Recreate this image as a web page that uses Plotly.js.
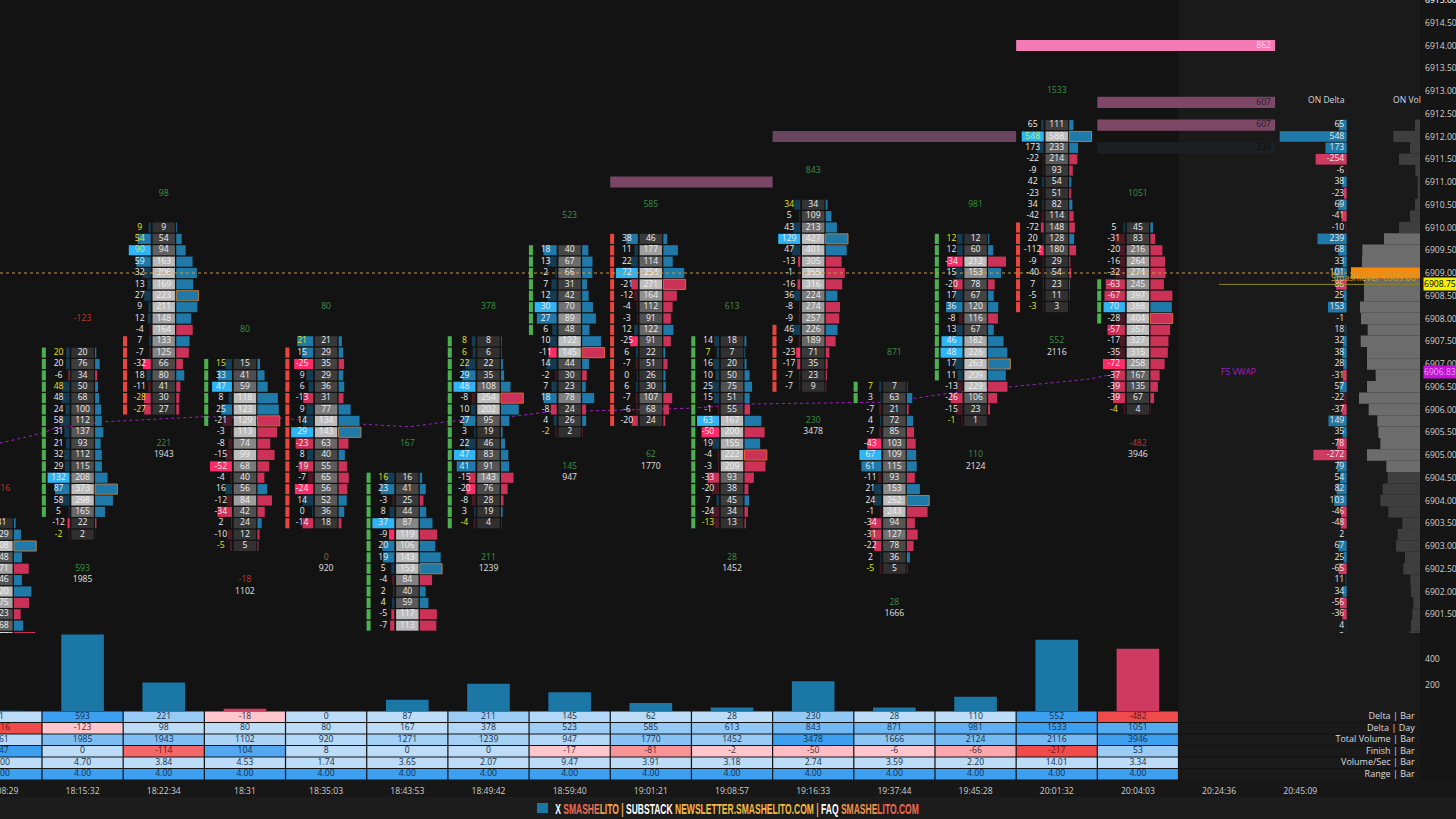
<!DOCTYPE html>
<html><head><meta charset="utf-8">
<script src="https://cdn.plot.ly/plotly-3.0.1.min.js"></script>
<style>html,body{margin:0;padding:0;background:#151515;overflow:hidden}</style></head>
<body><div id="chart" style="width:1456px;height:819px"></div>
<script>
// ---------- data ----------
const timeLabels=['18:08:29','18:15:32','18:22:34','18:31','18:35:03','18:43:53','18:49:42','18:59:40','19:01:21','19:08:57','19:16:33','19:37:44','19:45:28','20:01:32','20:04:03','20:24:36','20:45:09'];
const topPrice=[6903.5,6907.25,6910,6907,6907.5,6904.5,6907.5,6909.5,6909.75,6907.5,6910.5,6906.5,6909.75,6912.25,6910];
const delta0=[1,6,40,9,-14,7,19,-9,-3,8,-30];
const vol0=[31,129,408,148,271,146,320,275,123,168,390];
const delta1=[20,20,-6,48,48,24,58,31,21,32,29,132,87,58,5,-12,-2];
const vol1=[20,76,34,50,68,100,112,137,93,112,115,208,373,298,165,22,2];
const delta2=[9,54,90,59,32,13,27,9,12,-4,7,-7,-32,18,-11,-28,-27];
const vol2=[9,54,94,163,206,169,223,211,148,164,133,125,66,80,41,30,27];
const delta3=[15,33,47,8,25,-21,-3,-8,-15,-52,-4,16,-12,-34,2,-10,-5];
const vol3=[15,41,59,118,123,129,113,74,99,68,40,56,84,42,24,12,5];
const delta4=[21,15,-25,9,6,-13,9,14,29,-23,8,-19,-7,-24,14,0,-14];
const vol4=[21,29,35,29,36,31,77,134,143,63,40,55,65,56,52,36,18];
const delta5=[16,23,-3,8,37,-9,20,19,5,-4,2,4,-5,-7];
const vol5=[16,41,25,44,87,119,106,143,153,84,40,59,117,113];
const delta6=[8,6,22,29,48,-8,10,27,3,22,47,41,-15,-20,-8,3,-4];
const vol6=[8,6,22,35,108,254,202,95,19,46,83,91,143,76,28,19,4];
const delta7=[18,13,2,7,12,30,27,6,10,-11,14,-2,7,18,-8,4,-2];
const vol7=[40,67,66,31,42,70,89,48,122,145,44,30,23,78,24,26,2];
const delta8=[38,11,22,72,-21,-12,-4,-3,12,-25,6,-7,0,6,-7,-6,-20];
const vol8=[46,177,114,254,271,164,112,91,122,91,22,51,26,30,107,68,24];
const delta9=[14,7,16,10,25,15,-1,63,-50,19,-4,-3,-33,-20,7,-24,-13];
const vol9=[18,7,20,50,75,51,55,167,200,155,222,209,93,38,45,34,13];
const delta10=[34,5,43,129,47,-13,-1,-16,36,-8,-9,46,-9,-23,-17,-7,-7];
const vol10=[34,109,213,427,401,305,365,316,224,274,257,226,189,71,35,23,9];
const delta11=[7,3,-7,4,-7,-43,67,61,-11,21,24,-1,-34,-31,-22,2,-5];
const vol11=[7,63,21,72,85,103,109,115,93,153,262,243,94,127,78,36,5];
const delta12=[12,12,-34,15,-20,17,36,-8,13,46,48,17,11,-13,-26,-15,-1];
const vol12=[12,60,212,153,78,67,120,116,67,182,226,263,209,229,106,23,1];
const delta13=[65,548,173,-22,-9,42,-23,34,-42,-72,20,-112,-9,-40,7,-5,-3];
const vol13=[111,588,233,214,93,54,51,82,114,148,128,180,29,54,23,11,3];
const delta14=[5,-31,-20,-16,-32,-63,-67,70,-28,-57,-17,-35,-72,-37,-39,-39,-4];
const vol14=[45,83,216,264,274,245,397,388,404,357,327,315,258,167,135,67,4];
const stripeTop=[null,6907.25,6907.5,6907,6907.25,6904.5,6907.5,6909.5,6909.75,6907.5,6907.75,6906.5,6909.75,6910,6908.75];
const stripeBottom=[null,6903.75,6906,6905.75,6903.5,6901.25,6903.5,6907.75,6905.75,6903.5,6906.5,6906.25,6906.75,6908.25,6908];
const stripeUp=[1,1,0,1,0,1,1,1,0,1,0,1,1,0,1];
const deltaBar=[1,593,221,-18,0,87,211,145,62,28,230,28,110,552,-482];
const deltaDay=[-716,-123,98,80,80,167,378,523,585,613,843,871,981,1533,1051];
const totalVolume=[861,1985,1943,1102,920,1271,1239,947,1770,1452,3478,1666,2124,2116,3946];
const finishBar=[147,0,-114,104,8,0,0,-17,-81,-2,-50,-6,-66,-217,53];
const volPerSec=[3,4.70,3.84,4.53,1.74,3.65,2.07,9.47,3.91,3.18,2.74,3.59,2.20,14.01,3.34];
const rangeBar=[4,4,4,4,4,4,4,4,4,4,4,4,4,4,4];
const tableLabels=['Delta | Bar','Delta | Day','Total Volume | Bar','Finish | Bar','Volume/Sec | Bar','Range | Bar'];
const onDeltaTop=6912.25;
const onDelta=[65,548,173,-254,-6,38,-23,69,-41,-10,239,68,33,101,-86,25,153,-1,18,32,38,28,-31,57,-22,-37,149,35,-78,-272,79,54,82,103,-46,-48,2,67,25,-65,11,34,-56,-36,4,-3];
const onVol=[150,800,300,630,140,70,70,150,300,630,1080,1730,1740,2070,1680,1680,1800,1770,1570,1780,1590,1590,1330,1590,1830,1540,1280,1250,1190,1590,1010,970,1120,1190,950,530,670,720,450,500,290,270,200,230,270,320];
const vwapIdx=[-0.02,.505,.63,1.245,2.48,3.43,3.67,4.41,5.03,5.48,6.26,6.75,7.21,7.70,8.52,9.18,10.82,11.19,11.68,12.38,13.41,13.65,14];
const vwapPrice=[6905.26,6905.48,6905.57,6905.73,6905.84,6905.81,6905.77,6905.68,6905.62,6905.73,6905.84,6905.95,6905.97,6905.99,6906.03,6906.12,6906.16,6906.23,6906.36,6906.49,6906.67,6906.76,6906.83];
const levelStart=[7.5,9.5,12.5,13.5,13.5,13.5];
const levelEnd=[9.5,12.5,15.69,15.69,15.69,15.69];
const levelPrice=[6911,6912,6914,6912.75,6912.25,6911.75];
const levelLabel=['','',862,607,607,239];
const smashLevel=6909, lastPrice=6908.75, vwapLast=6906.83, topTick=6915;

// ---------- styling / helpers ----------
const allDelta=[delta0,delta1,delta2,delta3,delta4,delta5,delta6,delta7,delta8,delta9,delta10,delta11,delta12,delta13,delta14];
const allVol=[vol0,vol1,vol2,vol3,vol4,vol5,vol6,vol7,vol8,vol9,vol10,vol11,vol12,vol13,vol14];
const FONT='"Open Sans", "Noto Sans", sans-serif', TS=8.6;
const slope=81.18, origin=1.4, plotW=1420;
const xr=[-origin/slope,(plotW-origin)/slope];
const BLUE='#1f7aa9',RED='#cc3158';
const levelColor=['#7b4565','#6a4560','#f27ab5','#7d4866','#7d4866','#1c2024'];
const levelText=['#000','#000','#ffd6e8','#2a1a24','#2a1a24','#0c0c0c'];
function grayOf(r){const g=Math.round(48+142*Math.pow(Math.min(1,r/.75),1.8));return `rgb(${g},${g},${g})`}
function deltaColor(d,maxPos,maxNeg){
  if(d>=0){const r=maxPos?d/maxPos:0;return r>=.95?'#2fb4f4':r>=.5?BLUE:'#143d54'}
  const r=maxNeg?(-d)/maxNeg:0;return r>=.95?'#ff2a68':r>=.5?RED:'#4a1a26';
}
const cellH=.222;
const dBar={x:[],y:[],base:[],c:[]},vBar={x:[],y:[],base:[],c:[]},pBar={x:[],y:[],base:[],c:[],lc:[],lw:[]},sBar={x:[],y:[],base:[],c:[]};
const dTxt={x:[],y:[],t:[],c:[]},vTxt={x:[],y:[],t:[]};
const headTxt={x:[],y:[],t:[],c:[]};
allDelta.forEach((ds,i)=>{
  const vs=allVol[i],top=topPrice[i];
  const maxV=Math.max(...vs),maxA=Math.max(...ds.map(Math.abs)),maxP=Math.max(...ds,0),maxN=Math.max(...ds.map(d=>-d),0);
  ds.forEach((d,k)=>{
    const p=top-.25*k,v=vs[k];
    const w=Math.max(.012,Math.abs(d)/maxA*.271);
    const col=deltaColor(d,maxP,maxN);
    dBar.x.push(w);dBar.y.push(p);dBar.base.push(i-.16-w);dBar.c.push(col);
    vBar.x.push(.276);vBar.y.push(p);vBar.base.push(i-.138);vBar.c.push(grayOf(v/maxV));
    const pw=v/maxV*.275;
    const isPoc=v===maxV;
    pBar.x.push(pw);pBar.y.push(p);pBar.base.push(i+.154);pBar.c.push(d>=0?BLUE:RED);
    pBar.lc.push(d>=0?'#b87a3c':'#e8602c');pBar.lw.push(isPoc?1:0);
    const extreme=v>0&&Math.abs(d)/v>=.93;
    dTxt.x.push(i-.296);dTxt.y.push(p);dTxt.t.push(String(d));
    dTxt.c.push(extreme?(col==='#2fb4f4'?'#b8f070':'#e6e224'):'#ececec');
    vTxt.x.push(i);vTxt.y.push(p);vTxt.t.push(String(v));
  });
  const bottom=top-.25*(ds.length-1);
  const sgn=v=>v>0?'#3f9142':v<0?'#bf3a30':'#8a6a3a';
  headTxt.x.push(i);headTxt.y.push(top+.75);headTxt.t.push(String(deltaDay[i]));headTxt.c.push(sgn(deltaDay[i]));
  headTxt.x.push(i);headTxt.y.push(bottom-.75);headTxt.t.push(String(deltaBar[i]));headTxt.c.push(sgn(deltaBar[i]));
  headTxt.x.push(i);headTxt.y.push(bottom-1);headTxt.t.push(String(totalVolume[i]));headTxt.c.push('#e0e0e0');
  if(stripeTop[i]!==null){
    for(let p=stripeTop[i];p>=stripeBottom[i];p-=.25){
      sBar.x.push(.05);sBar.y.push(p);sBar.base.push(i-.477-.025);sBar.c.push(stripeUp[i]?'#4caf50':'#e8453c');
    }
  }
});
function hbar(a,w,extra){return Object.assign({type:'bar',orientation:'h',x:a.x,y:a.y,base:a.base,width:w,marker:{color:a.c,line:{width:a.lw||0,color:a.lc||'rgba(0,0,0,0)'}},hoverinfo:'skip',showlegend:false},extra||{})}
function txt(x,y,t,c,pos,extra,size){return Object.assign({type:'scatter',mode:'text',x,y,text:t,textposition:pos||'middle center',textfont:{family:FONT,size:size||TS,color:c},hoverinfo:'skip',showlegend:false},extra||{})}

const traces=[];
traces.push(hbar({x:levelEnd.map((e,k)=>e-levelStart[k]),y:levelPrice,base:levelStart,c:levelColor},.245));
traces.push(hbar(sBar,cellH));
traces.push(hbar(dBar,cellH));
traces.push(hbar(vBar,cellH));
traces.push(hbar(pBar,cellH));
traces.push(txt(levelEnd.slice(2).map(e=>e-.05),levelPrice.slice(2),levelLabel.slice(2).map(String),levelText.slice(2),'middle left'));
traces.push(txt(dTxt.x,dTxt.y,dTxt.t,dTxt.c));
traces.push(txt(vTxt.x,vTxt.y,vTxt.t,'#efefef'));
traces.push(txt(headTxt.x,headTxt.y,headTxt.t,headTxt.c));
traces.push({type:'bar',x:deltaBar.map((_,i)=>i),y:deltaBar.map(Math.abs),width:.525,xaxis:'x',yaxis:'y2',marker:{color:deltaBar.map(v=>v>=0?'#1b77a6':'#cf3a62')},hoverinfo:'skip',showlegend:false});
const tableRows=[deltaBar,deltaDay,totalVolume,finishBar,volPerSec,rangeBar];
const rowPosFull=[593,1533,3946,147,100,4];
function mix(a,b,t){return 'rgb('+a.map((v,k)=>Math.round(v+(b[k]-v)*t)).join(',')+')'}
function clamp(t){return Math.max(0,Math.min(1,t))}
const tb={x:[],y:[],base:[],c:[]},tt={x:[],y:[],t:[],c:[]};
tableRows.forEach((row,r)=>{
  const negFull=Math.max(...row.map(v=>-v),1);
  row.forEach((v,i)=>{
    let col,tc='#14304c';
    if(v<0){const q=clamp((-v/negFull-.2)/.42);col=mix([255,198,205],[239,75,75],q);tc=q>.5?'#6a1414':'#4a2a30'}
    else{const q=clamp((v/rowPosFull[r]-.2)/.6);col=mix([188,220,248],[61,159,240],q)}
    tb.x.push(.985);tb.y.push(r);tb.base.push(i-.4925);tb.c.push(col);
    tt.x.push(i);tt.y.push(r);tt.c.push(tc);
    tt.t.push(r>=4?v.toFixed(2):String(v));
  });
});
traces.push(hbar(tb,.9,{xaxis:'x',yaxis:'y3'}));
traces.push(txt(tt.x,tt.y,tt.t,tt.c,'middle center',{xaxis:'x',yaxis:'y3'}));
traces.push(txt(tableLabels.map(()=>xr[1]-.065),tableLabels.map((_,r)=>r),tableLabels,'#dcdcdc','middle left',{xaxis:'x',yaxis:'y3'},9));
const onP=onDelta.map((_,k)=>onDeltaTop-.25*k);
traces.push({type:'bar',orientation:'h',x:onDelta.map(v=>-Math.abs(v)),y:onP,width:.235,xaxis:'x2',yaxis:'y',
  marker:{color:onDelta.map(v=>v>=0?(v>=25?BLUE:'#143d54'):(v<=-23?'#cf3a62':'#4a1a26'))},hoverinfo:'skip',showlegend:false});
traces.push(txt(onDelta.map(()=>-20),onP,onDelta.map(String),'#e6e6e6','middle left',{xaxis:'x2',yaxis:'y'}));
const onVP=onVol.map((_,k)=>onDeltaTop-.25*k);
traces.push({type:'bar',orientation:'h',x:onVol.map(v=>-v),y:onVP,width:.25,xaxis:'x3',yaxis:'y',
  marker:{color:onVP.map(p=>p===smashLevel?'#f58a0a':(p<=6909.75&&p>=6904.75)?'#6c6c6c':'#3e3e3e')},hoverinfo:'skip',showlegend:false});

const H=780;
const vwapPath='M'+vwapIdx.map((x,k)=>x+','+vwapPrice[k]).join(' L');
const shapes=[
 {type:'rect',xref:'x',yref:'paper',x0:14.5,x1:xr[1],y0:0,y1:1,fillcolor:'#1a1a1a',line:{width:0},layer:'below'},
 {type:'rect',xref:'paper',yref:'paper',x0:0,x1:1.03,y0:-(17/H),y1:0,fillcolor:'#171717',line:{width:0},layer:'below'},
 {type:'rect',xref:'paper',yref:'paper',x0:0,x1:1.03,y0:-(39/H),y1:-(17/H),fillcolor:'#1c1c1c',line:{width:0},layer:'below'},
 {type:'path',xref:'x',yref:'y',path:vwapPath,line:{color:'#a021c2',width:1,dash:'dot'},layer:'below'},
 {type:'line',xref:'x',yref:'y',x0:xr[0],x1:xr[1],y0:smashLevel,y1:smashLevel,line:{color:'#c99a3c',width:1,dash:'dot'},layer:'above'},
 {type:'line',xref:'x',yref:'y',x0:15,x1:xr[1],y0:lastPrice,y1:lastPrice,line:{color:'#8f8620',width:1},layer:'above'},
 {type:'rect',xref:'paper',yref:'paper',x0:537/plotW,x1:548/plotW,y0:-(33/H),y1:-(23/H),fillcolor:'#1b77a6',line:{width:0},layer:'above'}
];
tableLabels.forEach((_,r)=>shapes.push({type:'line',xref:'x',yref:'y3',x0:14.5,x1:xr[1],y0:r+.5,y1:r+.5,line:{color:'#131313',width:1},layer:'below'}));
const sp=(c,t)=>`<span style="color:${c}">${t}</span>`;
const footer='<b>'+sp('#ffffff','X ')+sp('#ef6a52','SMASHE')+sp('#f5a84a','LITO')+sp('#f5a84a',' | ')+sp('#ffffff','SUBSTACK ')+sp('#f4b942','NEWSLETTER.SMASHELITO.COM')+sp('#f5a84a',' | ')+sp('#ffffff','FAQ ')+sp('#f0924a','SMASHE')+sp('#ef6a52','LITO.COM')+'</b>';
const annotations=[
 {xref:'x2',yref:'y',x:0,y:6912.8,text:'ON Delta',xanchor:'right',showarrow:false,font:{family:FONT,size:8.6,color:'#d8d8d8'}},
 {xref:'paper',yref:'y',x:1.002,y:6912.8,text:'ON Vol',xanchor:'right',showarrow:false,font:{family:FONT,size:8.6,color:'#d8d8d8'}},
 {xref:'paper',yref:'y',x:1418/plotW,y:smashLevel-.1,text:'Smashlevel  '+smashLevel.toFixed(2),xanchor:'right',showarrow:false,font:{family:FONT,size:9,color:'#c9a23c'}},
 {xref:'x',yref:'y',x:15,y:vwapLast,text:'FS VWAP',xanchor:'left',showarrow:false,font:{family:FONT,size:8.6,color:'#a021c2'}},
 {xref:'paper',yref:'y',x:1423/plotW,y:lastPrice,text:lastPrice.toFixed(2),xanchor:'left',showarrow:false,bgcolor:'#f2f200',borderpad:0,font:{family:FONT,size:8.6,color:'#000'}},
 {xref:'paper',yref:'y',x:1423/plotW,y:vwapLast,text:vwapLast.toFixed(2),xanchor:'left',showarrow:false,bgcolor:'#c511d8',borderpad:0,font:{family:FONT,size:8.6,color:'#e6a0ee'}},
 {xref:'paper',yref:'paper',x:1423/plotW,y:1,text:topTick.toFixed(2),xanchor:'left',yanchor:'middle',showarrow:false,font:{family:FONT,size:TS,color:'#cfcfcf'}},
 {xref:'paper',yref:'paper',x:553/plotW,y:-(28/H),text:footer,xanchor:'left',yanchor:'middle',showarrow:false,font:{family:'"Liberation Sans","Open Sans",sans-serif',size:15}}
];
const axisBase={showgrid:false,zeroline:false,showline:false,fixedrange:true,ticks:''};
const layout={
 width:1456,height:819,margin:{l:0,r:36,t:0,b:39,pad:0},
 paper_bgcolor:'#151515',plot_bgcolor:'#131314',barmode:'overlay',showlegend:false,
 xaxis:Object.assign({},axisBase,{range:xr,domain:[0,1],anchor:'y3',tickmode:'array',tickvals:timeLabels.map((_,i)=>i),ticktext:timeLabels,tickangle:0,ticklabelstandoff:4,ticklabeloverflow:'allow',tickfont:{family:FONT,size:TS,color:'#cfcfcf'}}),
 xaxis2:{overlaying:'x',anchor:'y',visible:false,range:[-(1346.7/.1223),(plotW-1346.7)/.1223],fixedrange:true},
 xaxis3:{overlaying:'x',anchor:'y',visible:false,range:[-plotW*30,0],fixedrange:true},
 yaxis:Object.assign({},axisBase,{domain:[(H-633)/H,1],anchor:'x',side:'right',range:[6909-(633-273)/45.5,6915],tick0:6901,dtick:.5,tickformat:'.2f',ticklabelstandoff:4,ticklabeloverflow:'allow',tickfont:{family:FONT,size:TS,color:'#cfcfcf'}}),
 yaxis2:Object.assign({},axisBase,{domain:[(H-711)/H,(H-634)/H],anchor:'x',side:'right',range:[0,77/.129],tickvals:[200,400],ticklabelstandoff:4,tickfont:{family:FONT,size:TS,color:'#cfcfcf'}}),
 yaxis3:{domain:[0,(H-711)/H],anchor:'x',visible:false,range:[5.5,-.5],fixedrange:true},
 shapes,annotations,font:{family:FONT}
};
Plotly.newPlot('chart',traces,layout,{staticPlot:true,displayModeBar:false}).then(gd=>{
  // the footer uses a tall condensed face: squeeze the annotation text horizontally to its width
  gd.querySelectorAll('.annotation-text').forEach(t=>{
    if(!t.textContent.includes('SUBSTACK'))return;
    const b=t.getBBox();
    const k=364/b.width;
    t.setAttribute('transform',`translate(${b.x},0) scale(${k},1) translate(${-b.x},0)`);
  });
});
</script></body></html>
